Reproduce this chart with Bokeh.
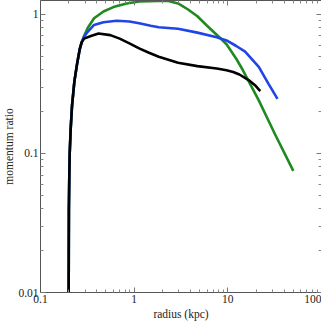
from bokeh.plotting import figure
from bokeh.models import LogAxis, FixedTicker, CustomJSTickFormatter, Range1d
from bokeh.embed import file_html
from bokeh.resources import INLINE

# common steep rise near r = 0.2 kpc
rise_r = [0.2, 0.2004, 0.201, 0.203, 0.205, 0.21, 0.217, 0.23, 0.247, 0.262, 0.275]
rise_v = [0.01, 0.02, 0.04, 0.07, 0.1, 0.15, 0.22, 0.33, 0.45, 0.56, 0.63]

black_r = rise_r + [0.292, 0.345, 0.417, 0.556, 0.70, 0.89, 1.13, 1.44, 1.83, 2.94, 4.73,
                    7.62, 9.68, 11.4, 13.3, 16.8, 19.5, 22.2]
black_v = rise_v + [0.67, 0.70, 0.73, 0.71, 0.67, 0.62, 0.57, 0.53, 0.497, 0.449, 0.425,
                    0.408, 0.397, 0.386, 0.37, 0.336, 0.31, 0.281]

blue_r = rise_r + [0.292, 0.319, 0.373, 0.47, 0.65, 0.89, 1.13, 1.5, 1.83, 2.94, 4.73,
                   7.62, 9.68, 12.3, 15.3, 21.4, 27.1, 33.9]
blue_v = rise_v + [0.69, 0.75, 0.84, 0.88, 0.90, 0.89, 0.865, 0.83, 0.81, 0.79, 0.74,
                   0.686, 0.65, 0.593, 0.54, 0.42, 0.318, 0.247]

green_r = rise_r + [0.292, 0.319, 0.373, 0.47, 0.60, 0.83, 1.13, 1.83, 2.32, 2.94, 3.73,
                    4.73, 6.0, 8.6, 9.68, 12.3, 14.4, 21.4, 31.8, 50.0]
green_v = rise_v + [0.70, 0.80, 0.94, 1.05, 1.13, 1.20, 1.24, 1.25, 1.25, 1.20, 1.09,
                    0.97, 0.83, 0.66, 0.61, 0.48, 0.40, 0.241, 0.138, 0.075]

x_ticks = [0.1, 1, 10, 100]
y_ticks = [0.01, 0.1, 1]
x_minor = [m * d for d in [0.1, 1, 10] for m in range(2, 10)]
y_minor = [m * d for d in [0.01, 0.1, 1] for m in range(2, 10)]

FONT = "Liberation Serif"

p = figure(width=321, height=322, x_axis_type="log", y_axis_type="log",
           x_range=Range1d(0.1, 100), y_range=Range1d(0.01, 1.26),
           output_backend="svg", toolbar_location=None,
           min_border_left=0, min_border_right=0, min_border_top=0, min_border_bottom=0)
p.grid.visible = False
p.outline_line_color = None
p.background_fill_color = "white"

p.line(green_r, green_v, line_color="#1f8a1f", line_width=2.6)
p.line(blue_r, blue_v, line_color="#1f45e6", line_width=2.6)
p.line(black_r, black_v, line_color="black", line_width=2.6)

fmt = CustomJSTickFormatter(code="return String(tick);")

def style(ax, ticks, minor, labels=True):
    ax.ticker = FixedTicker(ticks=ticks, minor_ticks=minor)
    ax.major_tick_in = 5
    ax.major_tick_out = 0
    ax.minor_tick_in = 3
    ax.minor_tick_out = 0
    ax.axis_line_color = "#555555"
    ax.major_tick_line_color = "#777777"
    ax.minor_tick_line_color = "#888888"
    if labels:
        ax.formatter = fmt
        ax.major_label_text_font = FONT
        ax.major_label_text_font_size = "11.5px"
        ax.major_label_text_color = "#222222"
        ax.major_label_standoff = 2
        ax.axis_label_text_font = FONT
        ax.axis_label_text_font_size = "11.5px"
        ax.axis_label_text_font_style = "normal"
        ax.axis_label_text_color = "#222222"
        ax.axis_label_standoff = 2
    else:
        ax.major_label_text_font_size = "1px"
        ax.major_label_text_color = None
        ax.major_label_standoff = 0

style(p.xaxis[0], x_ticks, x_minor)
style(p.yaxis[0], y_ticks, y_minor)
p.xaxis[0].axis_label = "radius (kpc)"
p.yaxis[0].axis_label = "momentum ratio"
p.yaxis[0].axis_label_standoff = 0

top = LogAxis()
style(top, x_ticks, x_minor, labels=False)
p.add_layout(top, "above")
right = LogAxis()
style(right, y_ticks, y_minor, labels=False)
p.add_layout(right, "right")

open("out.html", "w").write(file_html(p, INLINE))
